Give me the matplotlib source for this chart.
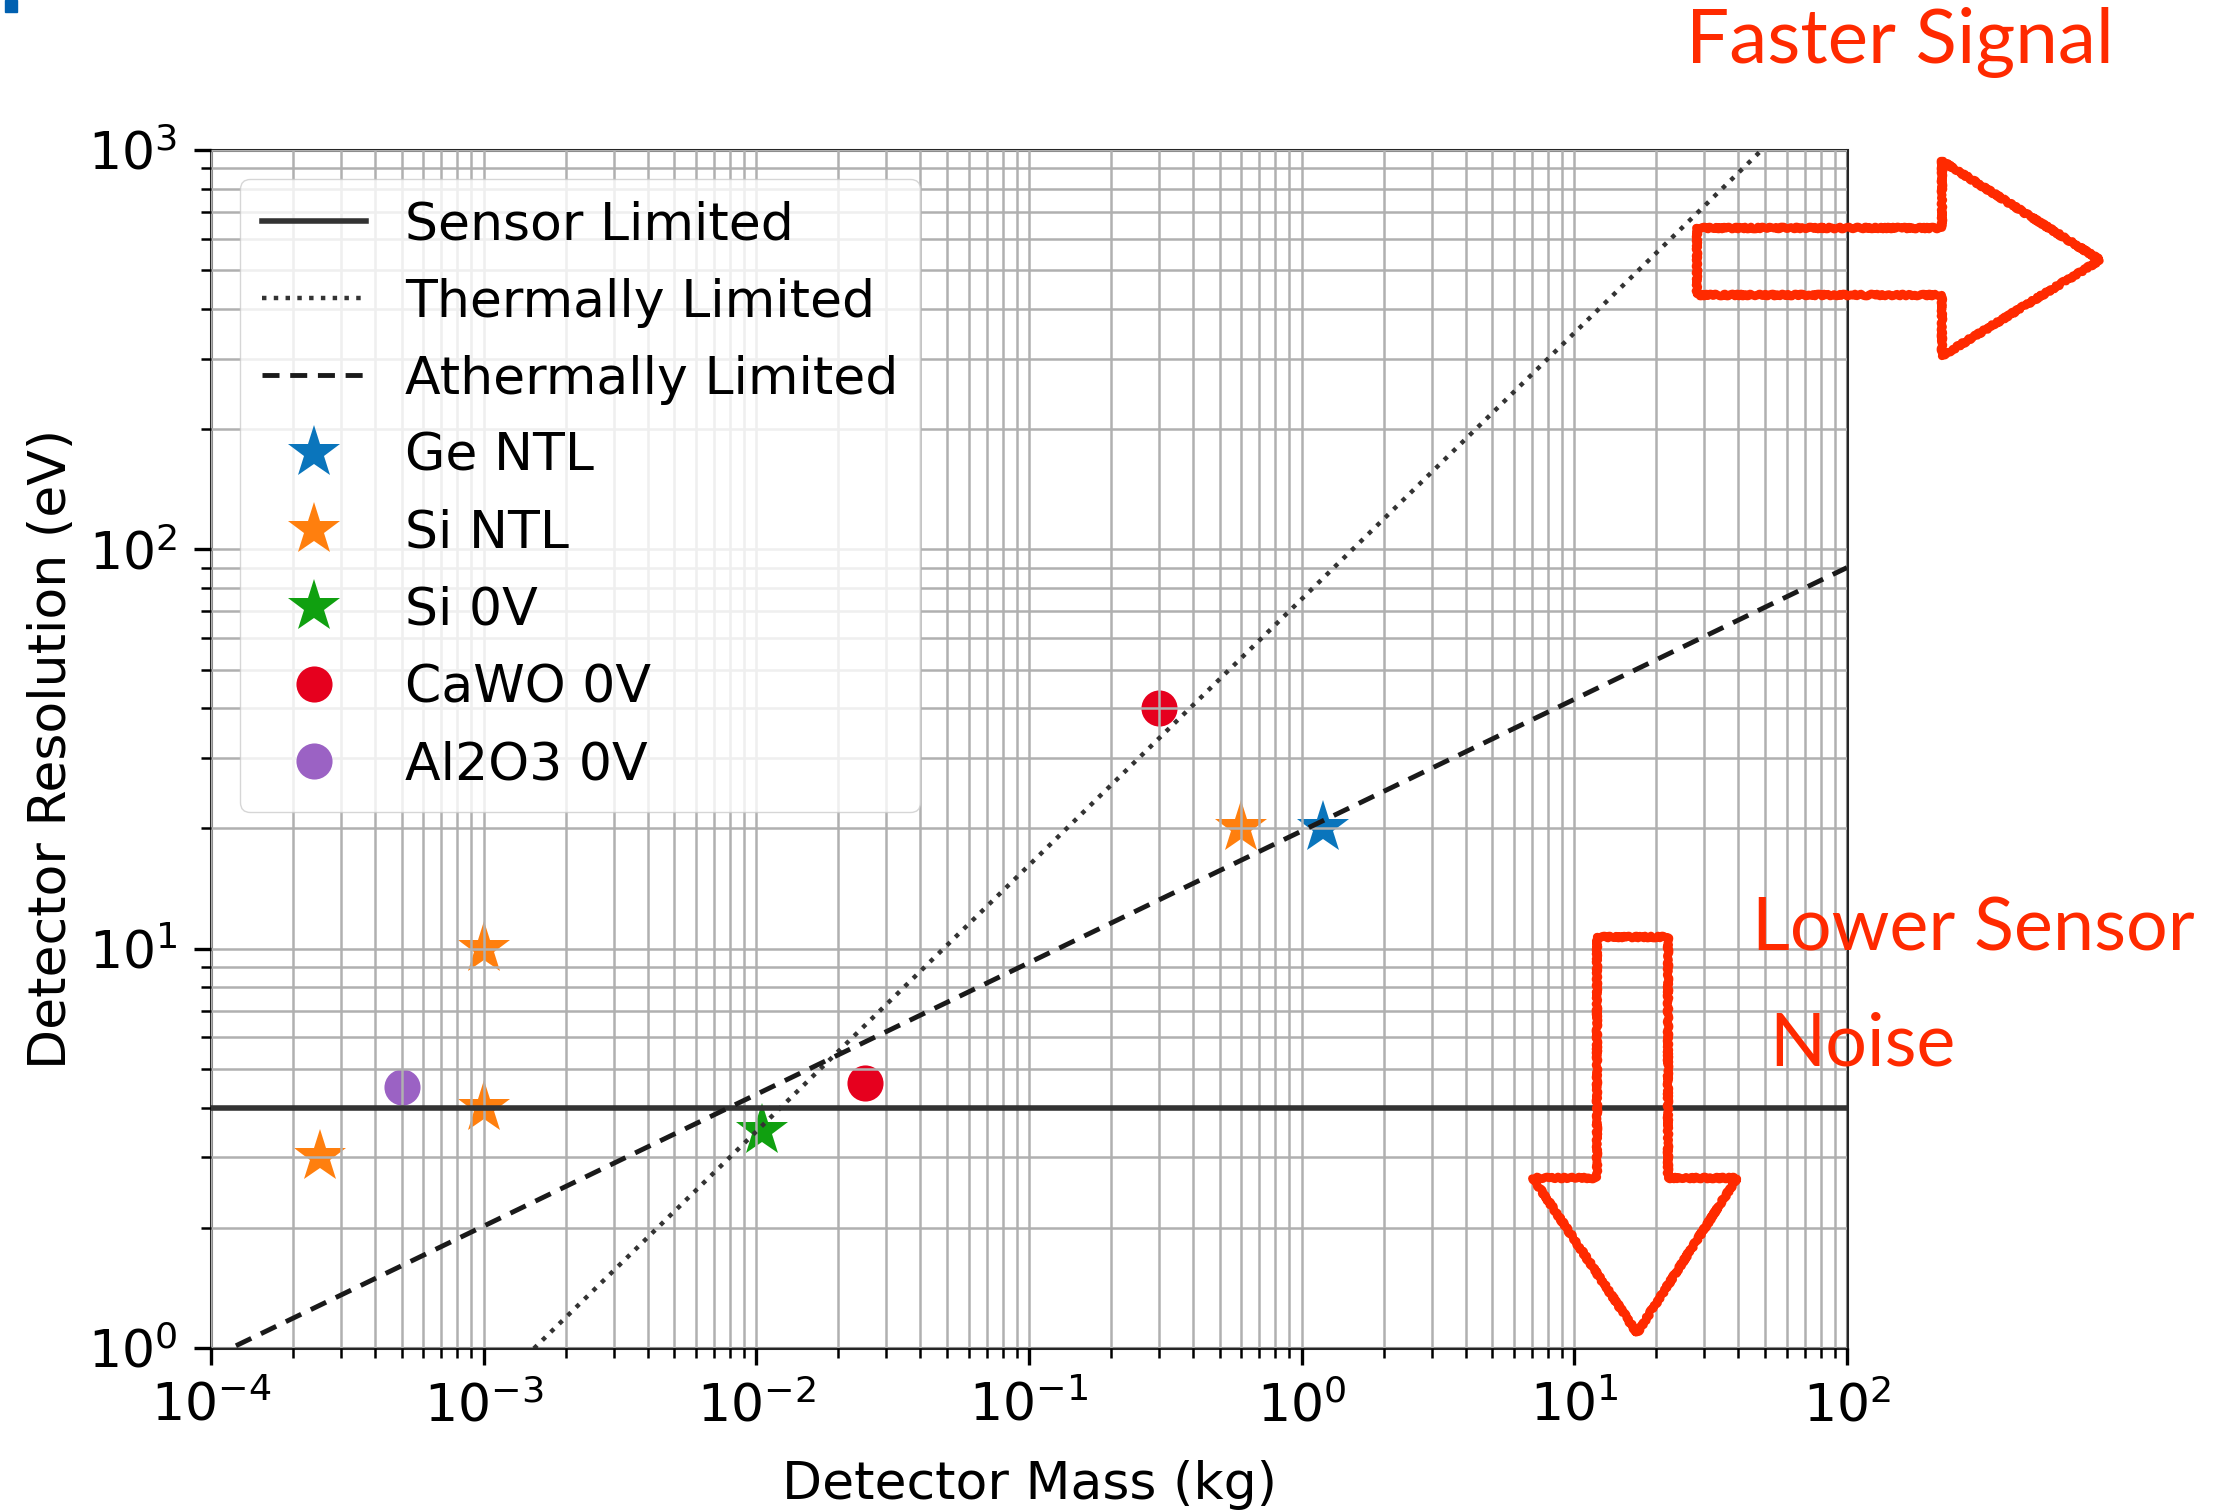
import matplotlib
matplotlib.use("Agg")
import matplotlib.pyplot as plt
import matplotlib.patches as patches

ge_ntl_mass = [1.2]
ge_ntl_res = [20]
si_ntl_mass = [0.6, 1e-3, 1e-3, 2.5e-4]
si_ntl_res = [20, 10, 4.0, 3.0]
si_0v_mass = [1.05e-2]
si_0v_res = [3.5]
cawo_mass = [0.3, 0.025]
cawo_res = [40, 4.6]
al2o3_mass = [5e-4]
al2o3_res = [4.5]

# limit lines (straight on log-log, given by their end points)
line_mass = [1e-4, 1e2]
sensor_res = [4.0, 4.0]
thermal_res = [0.162, 1616]
athermal_res = [0.945, 90]

W, H = 2236, 1512
fig = plt.figure(figsize=(W / 100, H / 100), dpi=100)
fig.subplots_adjust(left=211 / W, right=1847 / W, top=1 - 150 / H, bottom=1 - 1348 / H)
ax = fig.add_subplot(111)

fs = 37.5
ax.plot(line_mass, sensor_res, color="0.2", lw=4, ls="-", label="Sensor Limited", zorder=3)
ax.plot(line_mass, thermal_res, color="0.2", lw=3.2, ls=":", label="Thermally Limited", zorder=3)
ax.plot(line_mass, athermal_res, color="0.1", lw=3.5, ls=(0, (3.5, 2.2)),
        label="Athermally Limited", zorder=3)

ax.plot(ge_ntl_mass, ge_ntl_res, ls="none", marker="*", ms=40, mew=0, color="#0a75bc", label="Ge NTL")
ax.plot(si_ntl_mass, si_ntl_res, ls="none", marker="*", ms=40, mew=0, color="#ff7f0e", label="Si NTL")
ax.plot(si_0v_mass, si_0v_res, ls="none", marker="*", ms=40, mew=0, color="#10a010", label="Si 0V")
ax.plot(cawo_mass, cawo_res, ls="none", marker="o", ms=26, mew=0, color="#e6001e", label="CaWO 0V")
ax.plot(al2o3_mass, al2o3_res, ls="none", marker="o", ms=26, mew=0, color="#9b62c4", label="Al2O3 0V")

ax.set_xscale("log")
ax.set_yscale("log")
ax.set_xlim(1e-4, 1e2)
ax.set_ylim(1, 1e3)

ax.set_axisbelow(False)
ax.grid(True, which="both", color="#b0b0b0", lw=1.8)
for s in ax.spines.values():
    s.set_linewidth(2.2)
    s.set_color("0.15")
ax.tick_params(which="major", labelsize=fs, length=12, width=2.4, pad=12)
ax.tick_params(which="minor", length=7, width=1.8)

ax.set_xlabel("Detector Mass (kg)", fontsize=fs, labelpad=20)
ax.set_ylabel("Detector Resolution (eV)", fontsize=fs, labelpad=8)

ax.legend(loc="upper left", fontsize=fs, framealpha=0.8, borderaxespad=0.55,
          borderpad=0.42, labelspacing=0.52, handletextpad=0.75)

# red annotations (figure pixel coordinates)
red = "#ff2a00"

def px(pts):
    return [(x / W, 1 - y / H) for x, y in pts]

right_arrow = px([(1697, 228), (1942, 228), (1942, 161), (2100, 260),
                  (1942, 356), (1942, 295), (1697, 295)])
down_arrow = px([(1597, 937), (1668, 937), (1668, 1178), (1737, 1178),
                 (1637, 1333), (1533, 1178), (1597, 1178)])
for poly in (right_arrow, down_arrow):
    p = patches.Polygon(poly, closed=True, fill=False, edgecolor=red, lw=6,
                        transform=fig.transFigure, clip_on=False, joinstyle="round")
    p.set_sketch_params(scale=1.2, length=8, randomness=4)
    fig.patches.append(p)

fig.text(1900 / W, 1 - 43 / H, "Faster Signal", color=red, fontsize=55,
         ha="center", va="center", family="Lato")
fig.text(1973 / W, 1 - 930 / H, "Lower Sensor", color=red, fontsize=53,
         ha="center", va="center", family="Lato")
fig.text(1862 / W, 1 - 1045 / H, "Noise", color=red, fontsize=53,
         ha="center", va="center", family="Lato")

# small blue mark at the top-left corner of the slide
fig.patches.append(patches.Rectangle((5 / W, 1 - 12 / H), 12 / W, 12 / H,
                                     color="#0060b0", transform=fig.transFigure))

fig.savefig("out.png", dpi=100)
